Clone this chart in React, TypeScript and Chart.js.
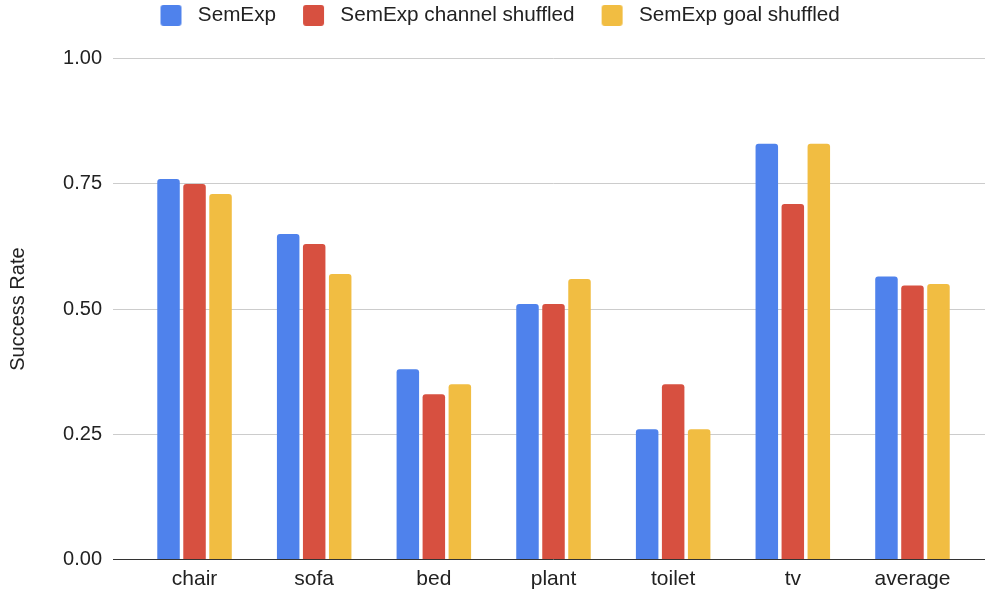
import React, { useEffect, useRef } from 'react';
import { Chart, registerables } from 'chart.js';

Chart.register(...registerables);

const categories = ['chair', 'sofa', 'bed', 'plant', 'toilet', 'tv', 'average'];
const seriesNames = ['SemExp', 'SemExp channel shuffled', 'SemExp goal shuffled'];
const semExp = [0.76, 0.65, 0.38, 0.51, 0.26, 0.83, 0.565];
const channelShuffled = [0.75, 0.63, 0.33, 0.51, 0.35, 0.71, 0.547];
const goalShuffled = [0.73, 0.57, 0.35, 0.56, 0.26, 0.83, 0.55];
const yTickValues = [0, 0.25, 0.5, 0.75, 1.0];
const yTitle = 'Success Rate';

const colors = ['#4F82EC', '#D75040', '#F1BD42'];
const FONT = '"Liberation Sans", Arial, Helvetica, sans-serif';

function makeLegendIcon(color: string) {
  const c = document.createElement('canvas');
  c.width = 49;
  c.height = 21;
  const g = c.getContext('2d')!;
  g.fillStyle = color;
  g.beginPath();
  if ((g as any).roundRect) (g as any).roundRect(22, 0, 21, 21, 3);
  else g.rect(22, 0, 21, 21);
  g.fill();
  return c;
}

export default function App() {
  const ref = useRef<HTMLCanvasElement>(null);
  useEffect(() => {
    if (!ref.current) return;
    const icons = colors.map(makeLegendIcon);
    const gridColor = (ctx: any) => (ctx.tick && ctx.tick.value === 0 ? '#333333' : '#cccccc');
    const chart = new Chart(ref.current, {
      type: 'bar',
      data: {
        labels: categories,
        datasets: [semExp, channelShuffled, goalShuffled].map((d, i) => ({
          label: seriesNames[i],
          data: d,
          backgroundColor: colors[i],
          borderRadius: 3,
          categoryPercentage: 0.652,
          barPercentage: 0.865,
          xAxisID: 'x',
          yAxisID: 'y',
        })),
      },
      options: {
        animation: false,
        responsive: true,
        maintainAspectRatio: false,
        layout: { padding: { left: 6, right: 13.7, top: 0, bottom: 0 } },
        plugins: {
          tooltip: { enabled: false },
          legend: {
            position: 'top',
            align: 'center',
            labels: {
              usePointStyle: true,
              pointStyleWidth: 49,
              boxHeight: 21,
              padding: 5,
              color: '#222222',
              font: { family: FONT, size: 20.7 },
              generateLabels: (ch: any) => {
                const items = (Chart.defaults.plugins.legend.labels as any).generateLabels(ch);
                items.forEach((it: any, i: number) => {
                  it.pointStyle = icons[i];
                });
                return items;
              },
            },
          },
        },
        scales: {
          x: {
            type: 'category',
            position: 'bottom',
            grid: { display: false, drawTicks: false },
            border: { display: false },
            ticks: { color: '#222222', font: { family: FONT, size: 21 }, padding: 7 },
            afterFit: (s: any) => {
              s.height = 32.5;
            },
          },
          x2: {
            type: 'category',
            position: 'top',
            grid: { display: false, drawTicks: false },
            border: { display: false },
            ticks: { display: false },
            afterFit: (s: any) => {
              s.height = 23;
            },
          },
          y: {
            type: 'linear',
            position: 'left',
            min: yTickValues[0],
            max: yTickValues[yTickValues.length - 1],
            afterBuildTicks: (s: any) => {
              s.ticks = yTickValues.map((v) => ({ value: v }));
            },
            grid: { color: gridColor, lineWidth: 1, tickLength: 21.7, drawTicks: true },
            border: { display: false },
            ticks: {
              color: '#222222',
              font: { family: FONT, size: 20 },
              padding: 11,
              callback: (v: any) => Number(v).toFixed(2),
            },
            title: {
              display: true,
              text: yTitle,
              color: '#222222',
              font: { family: FONT, size: 20 },
              padding: { top: 0, bottom: 0 },
            },
            afterFit: (s: any) => {
              s.width = 128.7;
            },
          },
          y2: {
            type: 'linear',
            position: 'right',
            min: yTickValues[0],
            max: yTickValues[yTickValues.length - 1],
            afterBuildTicks: (s: any) => {
              s.ticks = yTickValues.map((v) => ({ value: v }));
            },
            grid: { color: gridColor, lineWidth: 1, tickLength: 12.7, drawTicks: true, drawOnChartArea: false },
            border: { display: false },
            ticks: { display: false },
            afterFit: (s: any) => {
              s.width = 0;
            },
          },
        },
      } as any,
    });
    return () => chart.destroy();
  }, []);
  return (
    <div style={{ position: 'fixed', left: 0, top: 0, width: 986, height: 592, background: '#ffffff' }}>
      <canvas ref={ref} />
    </div>
  );
}
